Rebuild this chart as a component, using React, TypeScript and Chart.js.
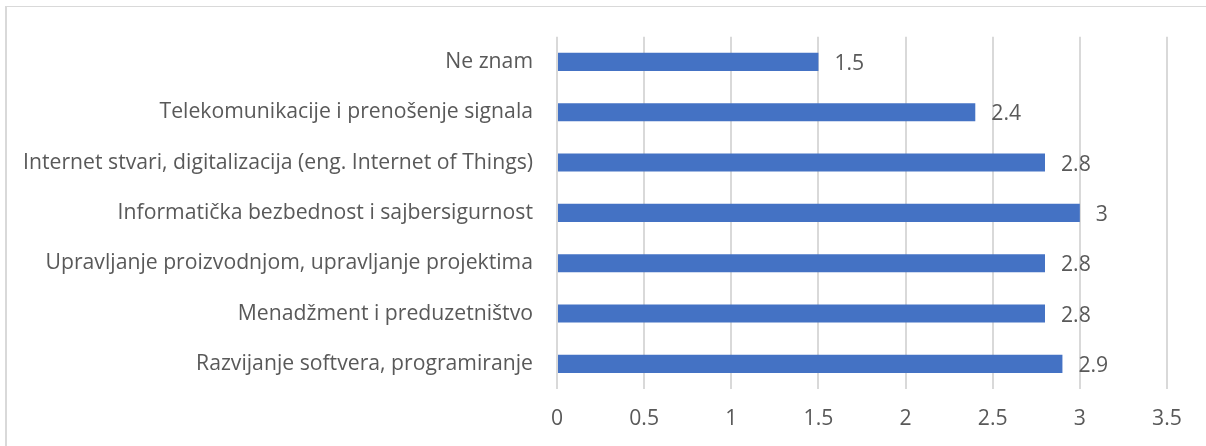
import React, { useEffect, useRef } from "react";
import { Chart, registerables } from "chart.js";

Chart.register(...registerables);

const categories = [
  "Ne znam",
  "Telekomunikacije i prenošenje signala",
  "Internet stvari, digitalizacija (eng. Internet of Things)",
  "Informatička bezbednost i sajbersigurnost",
  "Upravljanje proizvodnjom, upravljanje projektima",
  "Menadžment i preduzetništvo",
  "Razvijanje softvera, programiranje",
];
const values = [1.5, 2.4, 2.8, 3, 2.8, 2.8, 2.9];
const valueLabels = ["1.5", "2.4", "2.8", "3", "2.8", "2.8", "2.9"];
const xTicks = ["0", "0.5", "1", "1.5", "2", "2.5", "3", "3.5"];

const FONT = "'Open Sans', 'Noto Sans', sans-serif";
const TEXT = "#595959";
const SIZE = 21.2;

const dataLabelPlugin = {
  id: "dataLabels",
  afterDatasetsDraw(chart: any) {
    const ctx = chart.ctx;
    const meta = chart.getDatasetMeta(0);
    ctx.save();
    ctx.font = `${SIZE}px ${FONT}`;
    ctx.fillStyle = TEXT;
    ctx.textAlign = "left";
    ctx.textBaseline = "middle";
    meta.data.forEach((bar: any, i: number) => {
      ctx.fillText(valueLabels[i], bar.x + 16, bar.y + 2);
    });
    ctx.restore();
  },
};

export default function App() {
  const ref = useRef<HTMLCanvasElement | null>(null);
  useEffect(() => {
    if (!ref.current) return;
    const chart = new Chart(ref.current, {
      type: "bar",
      data: {
        labels: categories,
        datasets: [
          {
            data: values,
            backgroundColor: "#4472c4",
            barPercentage: 0.36,
            categoryPercentage: 1,
          },
        ],
      },
      options: {
        indexAxis: "y",
        animation: false,
        responsive: false,
        maintainAspectRatio: false,
        layout: { padding: { top: 35, right: 39, left: 0, bottom: 0 } },
        plugins: { legend: { display: false }, tooltip: { enabled: false } },
        scales: {
          x: {
            min: 0,
            max: 3.5,
            ticks: {
              stepSize: 0.5,
              color: TEXT,
              font: { family: FONT, size: SIZE },
              padding: 17,
              callback: (_v: any, i: number) => xTicks[i],
            },
            grid: { color: "#d9d9d9", lineWidth: 2, drawTicks: false },
            border: { display: false },
            afterFit: (s: any) => {
              s.height = 57;
            },
          },
          y: {
            ticks: {
              color: TEXT,
              font: { family: FONT, size: SIZE },
              padding: 24,
            },
            grid: { display: false, drawTicks: false },
            border: { display: false },
            afterFit: (s: any) => {
              s.width = 557;
            },
          },
        },
      },
      plugins: [dataLabelPlugin],
    });
    return () => chart.destroy();
  }, []);
  return (
    <div style={{ position: "absolute", left: 0, top: 0, width: 1206, height: 446, overflow: "hidden", background: "#fff" }}>
      <div
        style={{
          position: "absolute",
          left: 5,
          top: 6,
          width: 1220,
          height: 460,
          borderLeft: "2px solid #d9d9d9",
          borderTop: "1px solid #d9d9d9",
        }}
      />
      <canvas ref={ref} width={1206} height={446} style={{ position: "absolute", left: 0, top: 0 }} />
    </div>
  );
}
